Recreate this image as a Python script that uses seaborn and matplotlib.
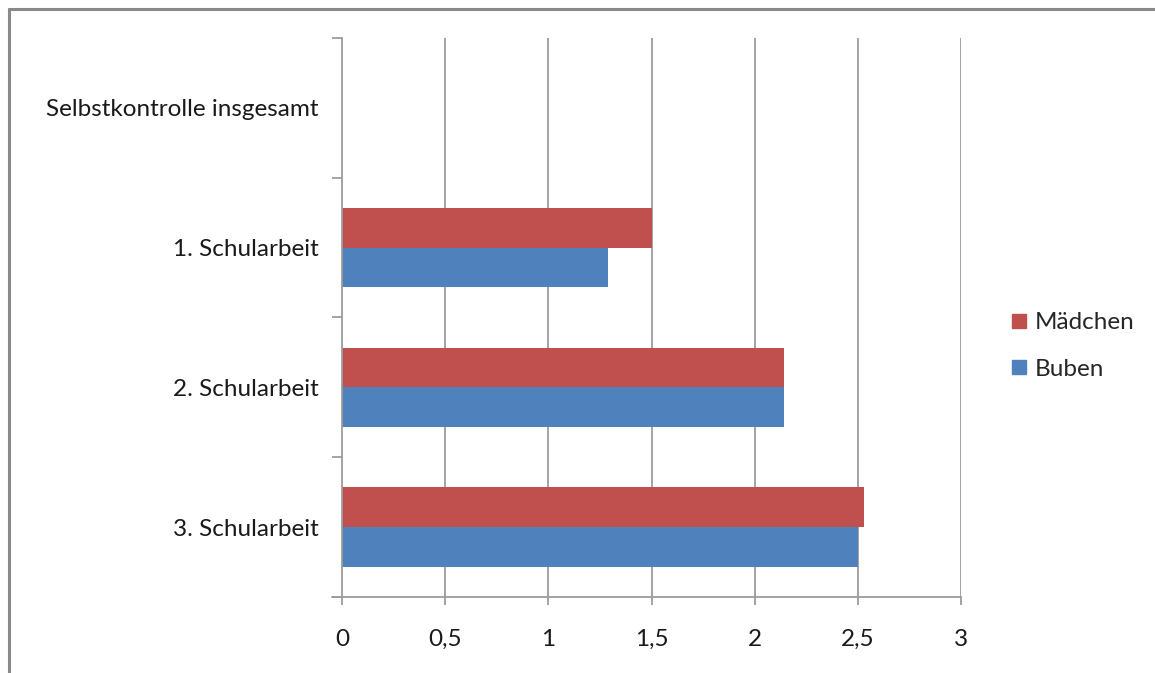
import numpy as np
import pandas as pd
import matplotlib
matplotlib.use("Agg")
import matplotlib.pyplot as plt
import seaborn as sns
from matplotlib.lines import Line2D

# ── Data ──────────────────────────────────────────────────────────────
categories = ["Selbstkontrolle insgesamt", "1. Schularbeit", "2. Schularbeit", "3. Schularbeit"]
maedchen = [np.nan, 1.50, 2.14, 2.53]
buben = [np.nan, 1.29, 2.14, 2.50]
series = ["Mädchen", "Buben"]
xticks = [0, 0.5, 1, 1.5, 2, 2.5, 3]
xtick_labels = ["0", "0,5", "1", "1,5", "2", "2,5", "3"]

df = pd.DataFrame({
    "Kategorie": categories * 2,
    "Wert": maedchen + buben,
    "Gruppe": [series[0]] * len(categories) + [series[1]] * len(categories),
})

# ── Style ─────────────────────────────────────────────────────────────
sns.set_style("white")
plt.rcParams["font.family"] = ["Lato", "DejaVu Sans"]
GRID = "#9c9c9c"
TXT = "#1a1a1a"
COLORS = ["#C0504D", "#4F81BD"]

fig = plt.figure(figsize=(11.55, 6.73), dpi=100)
ax = fig.add_axes([342 / 1155, 1 - 597 / 673, (961 - 342) / 1155, (597 - 38) / 673])

sns.barplot(
    data=df, y="Kategorie", x="Wert", hue="Gruppe",
    order=categories, hue_order=series, orient="h",
    palette=COLORS, width=0.57, gap=0,
    saturation=1, edgecolor="none", ax=ax, legend=False,
)

ax.set_xlim(0, 3)
ax.set_ylim(len(categories) - 0.5, -0.5)
ax.set_xlabel("")
ax.set_ylabel("")

# vertical gridlines
ax.set_xticks(xticks)
ax.set_xticklabels(xtick_labels, fontsize=17.5, color=TXT)
for x in xticks[1:]:
    ax.axvline(x, color=GRID, lw=1.3, zorder=0)
ax.set_axisbelow(True)

# category labels, ticks at the category borders
ax.set_yticks(range(len(categories)))
ax.set_yticklabels(categories, fontsize=17.5, color=TXT)
ax.set_yticks(np.arange(-0.5, len(categories), 1), minor=True)
ax.tick_params(axis="y", which="major", left=True, length=0, pad=17)
ax.tick_params(axis="y", which="minor", left=True, length=7, width=1.3, color=GRID, direction="out")
ax.tick_params(axis="x", which="major", bottom=True, length=6, width=1.3, color=GRID,
               direction="out", pad=17)

for name, sp in ax.spines.items():
    sp.set_visible(name in ("left", "bottom"))
    sp.set_color(GRID)
    sp.set_linewidth(1.3)

# bottom axis line reaches a bit left of the origin
ax.plot([-0.05, 0], [len(categories) - 0.5] * 2, color=GRID, lw=1.3, clip_on=False)

# legend
handles = [Line2D([0], [0], marker="s", ls="", markersize=9.5, color=c) for c in COLORS]
fig.legend(handles, series, loc="center left", bbox_to_anchor=(985 / 1155, 1 - 346 / 673),
           frameon=False, fontsize=17.5, labelspacing=1.05, handletextpad=0.15, handlelength=1.0)

# outer chart frame (left and top only visible)
fig.add_artist(Line2D([8.5 / 1155, 8.5 / 1155], [0, 1 - 8.5 / 673], color="#8a8a8a", lw=2.2,
                      transform=fig.transFigure))
fig.add_artist(Line2D([8.5 / 1155, 1], [1 - 8.5 / 673, 1 - 8.5 / 673], color="#8a8a8a", lw=2.2,
                      transform=fig.transFigure))

fig.savefig("out.png", dpi=100, facecolor="white")
